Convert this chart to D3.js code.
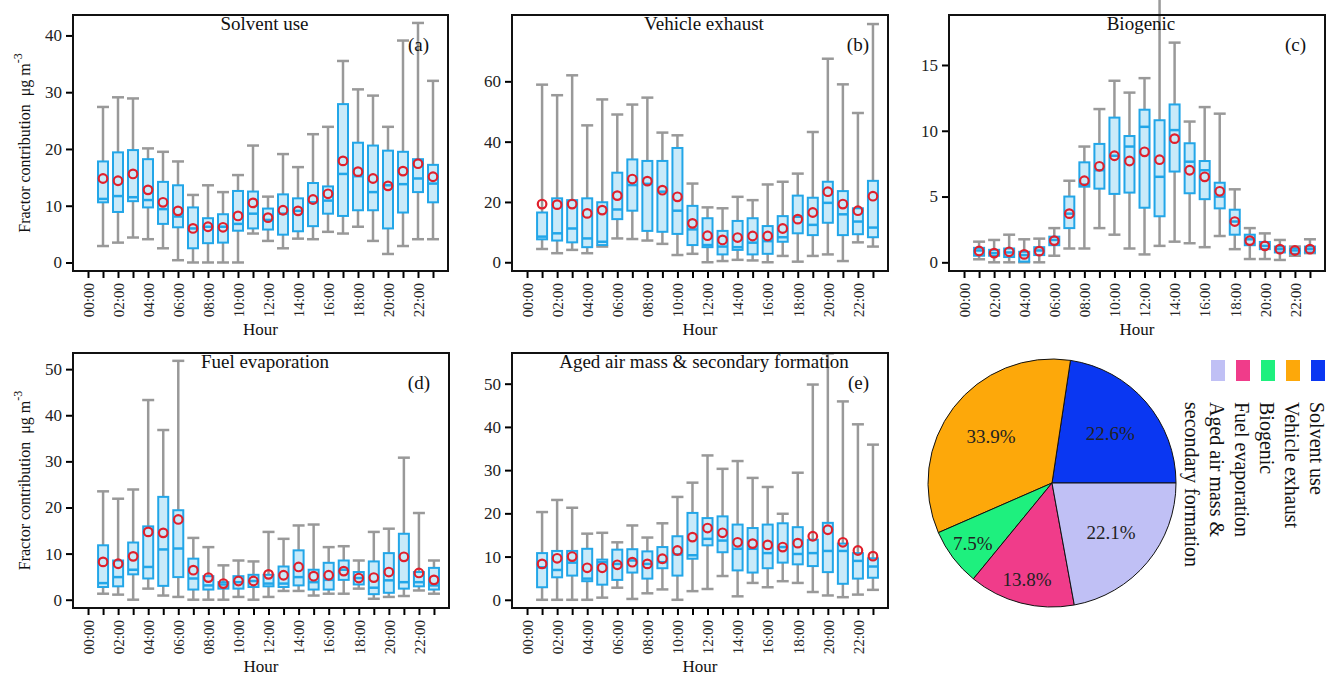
<!DOCTYPE html>
<html>
<head>
<meta charset="utf-8">
<script src="https://cdn.jsdelivr.net/npm/d3@7"></script>
<style>
  body { margin: 0; background: #fff; }
  svg { display: block; font-family: "Liberation Serif", "Times New Roman", serif; }
</style>
</head>
<body>
<svg width="1328" height="675"></svg>
<script>
// hours 1..23 carry a box, ticks at 0..23
const hours = d3.range(1, 24);
const tickHours = d3.range(0, 24);
const tickLabels = ["00:00","","02:00","","04:00","","06:00","","08:00","","10:00","","12:00","","14:00","","16:00","","18:00","","20:00","","22:00",""];

// (a) Solvent use
const aLow  = [2.9, 3.5, 4.4, 4.1, 2.5, 0.4, 0, 0, 0, 0, 5.1, 3.8, 2.5, 4.2, 4.1, 5.4, 5.1, 6.3, 3.8, 1.5, 2.9, 4.1, 4.1];
const aQ1   = [10.6, 8.9, 10.8, 9.7, 6.8, 6.2, 2.5, 3.4, 3.5, 5.6, 6.0, 5.8, 4.9, 5.5, 6.4, 8.6, 8.2, 9.2, 9.2, 6.0, 8.8, 12.4, 10.6];
const aMed  = [11.2, 11.7, 11.5, 11.0, 9.4, 8.1, 6.0, 6.3, 6.3, 6.8, 8.6, 7.5, 8.6, 9.1, 10.6, 10.9, 15.6, 15.2, 12.4, 13.6, 13.8, 14.8, 13.9];
const aQ3   = [17.8, 19.4, 19.8, 18.2, 14.2, 13.6, 9.7, 7.8, 8.5, 12.6, 12.5, 9.5, 12.0, 11.3, 14.0, 13.4, 27.9, 21.1, 20.6, 19.7, 19.5, 18.2, 17.2];
const aHigh = [27.4, 29.1, 28.9, 20.1, 19.5, 17.8, 11.9, 13.6, 12.4, 15.4, 20.6, 11.6, 19.1, 16.8, 22.6, 23.9, 35.5, 30.5, 29.4, 23.9, 39.1, 42.2, 32.0];
const aMean = [14.8, 14.4, 15.6, 12.8, 10.6, 9.1, 6.0, 6.3, 6.2, 8.2, 10.5, 7.9, 9.2, 9.1, 11.1, 12.1, 17.9, 16.0, 14.8, 13.5, 16.1, 17.4, 15.1];

// (b) Vehicle exhaust
const bLow  = [4.4, 3.0, 4.1, 3.0, 5.2, 7.9, 7.7, 7.2, 6.1, 2.4, 2.8, 0, 0.4, 0.8, 0.6, 0, 2.1, 0.2, 2.1, 2.6, 0.4, 6.6, 5.2];
const bQ1   = [7.6, 7.2, 6.6, 5.0, 5.7, 14.3, 17.1, 10.4, 10.1, 9.4, 5.7, 5.0, 2.6, 4.1, 2.6, 2.8, 6.8, 9.6, 9.0, 13.1, 9.0, 9.3, 8.3];
const bMed  = [8.5, 9.6, 11.2, 7.9, 6.8, 17.5, 25.6, 26.0, 23.4, 17.1, 10.9, 5.7, 5.2, 5.0, 6.5, 7.0, 8.3, 15.1, 12.4, 19.7, 15.9, 13.5, 11.5];
const bQ3   = [16.5, 21.2, 20.6, 21.2, 19.9, 29.7, 34.1, 33.6, 33.6, 37.9, 18.7, 14.6, 10.4, 13.7, 14.6, 12.0, 15.3, 22.1, 21.4, 26.7, 23.6, 17.9, 27.0];
const bHigh = [58.9, 55.4, 62.0, 45.4, 54.0, 49.0, 52.3, 54.6, 43.0, 42.1, 26.1, 18.2, 17.9, 21.7, 20.6, 25.8, 26.7, 29.4, 43.2, 67.5, 59.0, 49.5, 79.0];
const bMean = [19.3, 19.1, 19.3, 16.2, 17.3, 22.1, 27.6, 26.9, 23.9, 21.7, 12.9, 8.8, 7.4, 8.2, 8.7, 8.7, 11.2, 14.3, 16.5, 23.4, 19.3, 17.1, 21.9];

// (c) Biogenic
const cLow  = [0.23, 0, 0, 0, 0, 0.5, 1.05, 1.05, 2.6, 2.1, 1.05, 0.6, 1.25, 1.57, 1.45, 1.15, 2.0, 1.0, 0.25, 0.25, 0.18, 0.5, 0.7];
const cQ1   = [0.5, 0.5, 0.4, 0.05, 0.55, 1.3, 2.6, 5.75, 5.6, 5.2, 5.3, 4.15, 3.5, 6.9, 5.25, 4.8, 4.1, 2.1, 1.3, 1.0, 0.75, 0.65, 0.75];
const cMed  = [0.9, 0.7, 0.75, 0.55, 0.9, 1.7, 3.7, 5.9, 7.0, 8.1, 8.8, 10.3, 6.5, 10.05, 7.65, 7.0, 5.0, 3.1, 1.75, 1.25, 1.0, 0.9, 1.0];
const cQ3   = [1.1, 0.95, 1.05, 0.8, 1.15, 1.95, 5.0, 7.6, 9.0, 11.0, 9.6, 11.6, 10.8, 12.0, 9.05, 7.7, 6.05, 4.0, 2.1, 1.55, 1.2, 1.05, 1.2];
const cHigh = [1.57, 1.7, 2.1, 1.75, 1.8, 2.6, 6.2, 8.8, 11.65, 13.8, 12.9, 14.0, 20.5, 16.7, 10.7, 11.8, 11.3, 5.55, 2.6, 2.2, 1.7, 1.2, 1.75];
const cMean = [0.86, 0.7, 0.8, 0.6, 0.85, 1.65, 3.7, 6.2, 7.3, 8.1, 7.7, 8.4, 7.8, 9.4, 7.0, 6.5, 5.4, 3.1, 1.65, 1.25, 1.0, 0.9, 1.0];

// (d) Fuel evaporation
const dLow  = [1.3, 1.1, 0, 2.4, 0.9, 0.6, 0, 0, 0, 0.6, 0, 0.6, 1.9, 1.9, 0.9, 1.3, 1.3, 2.4, 0.2, 0.6, 0.8, 2.0, 1.3];
const dQ1   = [2.75, 2.9, 5.5, 4.6, 3.0, 4.9, 2.2, 2.2, 2.4, 2.4, 2.75, 2.9, 2.75, 3.1, 2.2, 2.2, 4.3, 3.3, 1.2, 1.5, 2.4, 2.9, 2.2];
const dMed  = [3.6, 4.9, 6.5, 7.1, 10.9, 11.1, 4.6, 3.1, 3.3, 3.8, 4.05, 3.5, 3.5, 4.9, 3.8, 4.3, 6.5, 4.7, 2.6, 4.2, 3.8, 3.8, 3.1];
const dQ3   = [11.8, 8.5, 12.4, 15.9, 22.3, 19.4, 8.9, 5.1, 3.8, 5.1, 5.4, 5.4, 7.2, 10.7, 6.5, 8.0, 8.5, 6.0, 8.3, 10.1, 14.3, 6.0, 6.9];
const dHigh = [23.5, 21.9, 23.9, 43.3, 36.8, 51.8, 13.4, 11.4, 7.45, 8.5, 8.3, 14.7, 13.2, 16.1, 16.3, 11.4, 11.6, 8.5, 14.7, 15.4, 30.8, 18.8, 8.5];
const dMean = [8.2, 7.8, 9.4, 14.7, 14.5, 17.4, 6.4, 4.8, 3.5, 4.05, 4.05, 5.5, 5.3, 7.1, 5.1, 5.3, 6.2, 4.7, 4.8, 6.0, 9.3, 5.8, 4.3];

// (e) Aged air mass & secondary formation
const eLow  = [0, 0, 0, 0, 0.5, 2.8, 0.2, 1.5, 2.4, 0, 2.0, 2.5, 5.5, 0.8, 3.9, 2.9, 4.3, 3.9, 1.8, 1.0, 0.6, 1.2, 2.3];
const eQ1   = [2.9, 5.2, 5.6, 4.3, 3.5, 4.6, 6.3, 4.9, 7.3, 5.6, 9.5, 12.6, 11.0, 6.8, 6.3, 7.3, 8.6, 8.2, 7.8, 6.4, 3.7, 4.9, 5.1];
const eMed  = [7.5, 6.9, 8.6, 4.9, 8.7, 8.3, 9.1, 8.3, 8.7, 10.5, 10.3, 14.1, 13.7, 11.8, 11.8, 10.8, 12.2, 10.6, 10.8, 11.3, 11.3, 9.0, 7.7];
const eQ3   = [10.8, 11.3, 11.3, 11.8, 9.3, 11.6, 11.7, 11.2, 12.2, 14.7, 20.1, 18.9, 19.3, 17.4, 16.6, 17.4, 17.7, 16.8, 13.9, 17.8, 13.0, 10.8, 9.6];
const eHigh = [20.3, 23.1, 21.3, 15.3, 15.5, 13.3, 17.2, 14.4, 17.7, 23.8, 27.1, 33.4, 30.3, 32.1, 28.2, 26.1, 19.9, 29.4, 49.8, 57.0, 45.9, 40.6, 35.9];
const eMean = [8.3, 9.6, 10.0, 7.4, 7.4, 8.1, 8.7, 8.3, 9.5, 11.4, 14.5, 16.6, 15.5, 13.3, 13.0, 12.7, 12.2, 13.1, 14.7, 16.2, 13.3, 11.4, 10.1];

// pie
const pieNames  = ["Solvent use", "Vehicle exhaust", "Biogenic", "Fuel evaporation", "Aged air mass & secondary formation"];
const pieValues = [22.6, 33.9, 7.5, 13.8, 22.1];
const legendLines = [["Solvent use"], ["Vehicle exhaust"], ["Biogenic"], ["Fuel evaporation"], ["Aged air mass &", "secondary formation"]];
const pieColors = ["#0a37f2", "#fda80a", "#1ef07e", "#f03c8a", "#c0c0f5"];

const svg = d3.select("svg");
const serif = "'Liberation Serif', 'Times New Roman', serif";
const boxStroke = "#22a6e8", boxFill = "#c9eaf9", whiskerCol = "#999", meanCol = "#e0202c";

const panels = [
  { title: "Solvent use", tag: "(a)", x0: 73, x1: 448, y0: 15, y1: 271, dom: [-1.5, 43.6], ticks: [0,10,20,30,40], ylab: true,
    lo: aLow, q1: aQ1, med: aMed, q3: aQ3, hi: aHigh, mean: aMean },
  { title: "Vehicle exhaust", tag: "(b)", x0: 512, x1: 888, y0: 15, y1: 271, dom: [-2.9, 82], ticks: [0,20,40,60], ylab: false,
    lo: bLow, q1: bQ1, med: bMed, q3: bQ3, hi: bHigh, mean: bMean },
  { title: "Biogenic", tag: "(c)", x0: 949, x1: 1325, y0: 15, y1: 271, dom: [-0.66, 18.8], ticks: [0,5,10,15], ylab: false,
    lo: cLow, q1: cQ1, med: cMed, q3: cQ3, hi: cHigh, mean: cMean },
  { title: "Fuel evaporation", tag: "(d)", x0: 73, x1: 449, y0: 353, y1: 608, dom: [-1.8, 53.5], ticks: [0,10,20,30,40,50], ylab: true,
    lo: dLow, q1: dQ1, med: dMed, q3: dQ3, hi: dHigh, mean: dMean },
  { title: "Aged air mass & secondary formation", tag: "(e)", x0: 512, x1: 888, y0: 353, y1: 608, dom: [-1.9, 57.1], ticks: [0,10,20,30,40,50], ylab: false,
    lo: eLow, q1: eQ1, med: eMed, q3: eQ3, hi: eHigh, mean: eMean }
];

panels.forEach(p => {
  const x = d3.scaleLinear().domain([-1, 24]).range([p.x0, p.x1]);
  const y = d3.scaleLinear().domain(p.dom).range([p.y1, p.y0]);
  const g = svg.append("g");
  const cx = (p.x0 + p.x1) / 2;

  // axes
  const xAxis = g.append("g")
      .attr("transform", `translate(0,${p.y1})`)
      .call(d3.axisBottom(x).tickValues(tickHours).tickSize(7).tickSizeOuter(0)
        .tickFormat(d => tickLabels[d]))
      .attr("font-family", serif).attr("font-size", 15);
  xAxis.select(".domain").remove();
  xAxis.selectAll("line").attr("stroke", "#000").attr("stroke-width", 2);
  xAxis.selectAll("text")
      .attr("transform", "rotate(-90)")
      .attr("y", 0).attr("x", -12).attr("dy", "0.35em")
      .style("text-anchor", "end").attr("fill", "#222");

  const yAxis = g.append("g")
      .attr("transform", `translate(${p.x0},0)`)
      .call(d3.axisLeft(y).tickValues(p.ticks).tickSize(7).tickPadding(4).tickSizeOuter(0))
      .attr("font-family", serif).attr("font-size", 17);
  yAxis.select(".domain").remove();
  yAxis.selectAll("line").attr("stroke", "#000").attr("stroke-width", 2);
  yAxis.selectAll("text").attr("fill", "#222");

  // boxes
  const boxW = 10, capW = 12;
  const items = hours.map((h, i) => ({ h, lo: p.lo[i], q1: p.q1[i], med: p.med[i], q3: p.q3[i], hi: p.hi[i], mean: p.mean[i] }));
  const bx = g.append("g").selectAll("g").data(items).join("g");
  bx.append("line")
      .attr("x1", d => x(d.h)).attr("x2", d => x(d.h))
      .attr("y1", d => y(d.lo)).attr("y2", d => y(d.hi))
      .attr("stroke", whiskerCol).attr("stroke-width", 2.5);
  ["lo", "hi"].forEach(k => {
    bx.append("line")
        .attr("x1", d => x(d.h) - capW / 2).attr("x2", d => x(d.h) + capW / 2)
        .attr("y1", d => y(d[k])).attr("y2", d => y(d[k]))
        .attr("stroke", whiskerCol).attr("stroke-width", 2.5);
  });
  bx.append("rect")
      .attr("x", d => x(d.h) - boxW / 2).attr("width", boxW)
      .attr("y", d => y(d.q3)).attr("height", d => Math.max(1, y(d.q1) - y(d.q3)))
      .attr("fill", boxFill).attr("stroke", boxStroke).attr("stroke-width", 2);
  bx.append("line")
      .attr("x1", d => x(d.h) - boxW / 2).attr("x2", d => x(d.h) + boxW / 2)
      .attr("y1", d => y(d.med)).attr("y2", d => y(d.med))
      .attr("stroke", boxStroke).attr("stroke-width", 2.5);
  bx.append("circle")
      .attr("cx", d => x(d.h)).attr("cy", d => y(d.mean)).attr("r", 4.3)
      .attr("fill", "none").attr("stroke", meanCol).attr("stroke-width", 2.2);

  // frame
  g.append("rect")
      .attr("x", p.x0).attr("y", p.y0).attr("width", p.x1 - p.x0).attr("height", p.y1 - p.y0)
      .attr("fill", "none").attr("stroke", "#111").attr("stroke-width", 2);

  g.append("text").attr("x", cx + 4).attr("y", p.y0 + 15)
      .attr("text-anchor", "middle").style("font-size", "19px").attr("fill", "#111").text(p.title);
  g.append("text").attr("x", p.x1 - 19).attr("y", p.y0 + 36)
      .attr("text-anchor", "end").style("font-size", "19px").attr("fill", "#111").text(p.tag);
  g.append("text").attr("x", cx).attr("y", p.y1 + 64)
      .attr("text-anchor", "middle").style("font-size", "17px").attr("fill", "#111").text("Hour");

  if (p.ylab) {
    const t = g.append("text")
        .attr("transform", `translate(30,${(p.y0 + p.y1) / 2}) rotate(-90)`)
        .attr("text-anchor", "middle").style("font-size", "16px").attr("fill", "#111");
    t.append("tspan").text("Fractor contribution\u00a0\u00a0μg m");
    t.append("tspan").attr("dy", "-0.7em").style("font-size", "12px").text("-3");
  }
});

// pie
const pcx = 1052, pcy = 483, r = 124;
const pie = d3.pie().sort(null).value(d => d)
    .startAngle(Math.PI / 2).endAngle(Math.PI / 2 - 2 * Math.PI);
const arc = d3.arc().innerRadius(0).outerRadius(r);
const pg = svg.append("g").attr("transform", `translate(${pcx},${pcy})`);
const arcs = pie(pieValues);
pg.selectAll("path").data(arcs).join("path")
    .attr("d", arc)
    .attr("fill", (d, i) => pieColors[i])
    .attr("stroke", "#111").attr("stroke-width", 1);
pg.selectAll("text").data(arcs).join("text")
    .attr("transform", d => {
      const lr = d.value < 15 ? r * 0.8 : r * 0.62;
      return `translate(${d3.arc().innerRadius(lr).outerRadius(lr).centroid(d)})`;
    })
    .attr("text-anchor", "middle").attr("dy", "0.35em")
    .style("font-size", "19px").attr("fill", "#222")
    .text(d => d.value.toFixed(1) + "%");

// legend, rotated text reading downward
const lx = [1317, 1292, 1267, 1242, 1217];
pieNames.forEach((n, i) => {
  svg.append("rect").attr("x", lx[i] - 6).attr("y", 360).attr("width", 14).attr("height", 21)
      .attr("fill", pieColors[i]);
  legendLines[i].forEach((line, j) => {
    svg.append("text")
        .attr("transform", `translate(${lx[i] - j * 25},402) rotate(90)`)
        .attr("dy", "0.33em")
        .style("font-size", "20px").attr("fill", "#111")
        .text(line);
  });
});
</script>
</body>
</html>
